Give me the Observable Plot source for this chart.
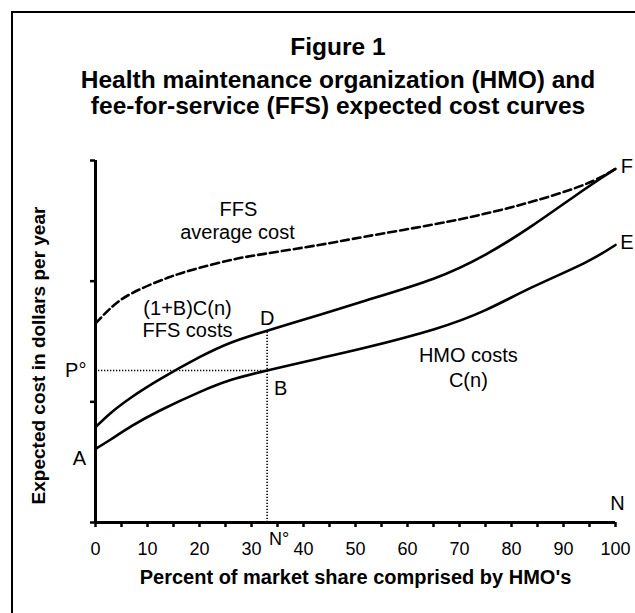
<!DOCTYPE html>
<html>
<head>
<meta charset="utf-8">
<script src="https://cdn.jsdelivr.net/npm/d3@7"></script>
<script src="https://cdn.jsdelivr.net/npm/@observablehq/plot@0.6"></script>
<style>
  html, body { margin: 0; padding: 0; background: #fff; }
  #wrap { position: relative; width: 635px; height: 613px; overflow: hidden; font-family: "Liberation Sans", Arial, Helvetica, sans-serif; color: #000; }
  #border { position: absolute; left: 11px; top: 11px; width: 700px; height: 700px; border-top: 2px solid #000; border-left: 2px solid #000; }
  .t { position: absolute; left: 0; width: 676px; text-align: center; font-weight: bold; white-space: nowrap; font-size: 24.5px; line-height: 25px; }
  #t1 { top: 34px; }
  #t2 { top: 67px; }
  #t3 { top: 93px; }
  #chart { position: absolute; left: 0; top: 130px; }
  #chart svg { overflow: visible; }
</style>
</head>
<body>
<div id="wrap">
  <div id="border"></div>
  <div class="t" id="t1">Figure 1</div>
  <div class="t" id="t2">Health maintenance organization (HMO) and</div>
  <div class="t" id="t3">fee-for-service (FFS) expected cost curves</div>
  <div id="chart"></div>
</div>
<script>
// ---- data (y in arbitrary cost units, axis spans 0..3) ----
const ffsAvgX  = [0, 3, 7, 14, 20, 26.5, 33, 43, 52, 65, 75, 84, 94, 100];
const ffsAvgY  = [1.65, 1.78, 1.90, 2.03, 2.11, 2.18, 2.23, 2.30, 2.37, 2.47, 2.56, 2.66, 2.80, 2.93];

const ffsCostX = [0, 3, 7, 12.5, 20, 26, 33, 43, 52, 65, 75, 84, 94, 100];
const ffsCostY = [0.79, 0.91, 1.04, 1.19, 1.37, 1.49, 1.59, 1.72, 1.84, 2.02, 2.22, 2.46, 2.76, 2.93];

const hmoX     = [0, 3, 7, 12.5, 20, 26, 33, 43, 52, 65, 75, 84, 94, 100];
const hmoY     = [0.61, 0.69, 0.80, 0.93, 1.08, 1.18, 1.26, 1.36, 1.45, 1.60, 1.76, 1.95, 2.15, 2.30];

const nStar = 33;      // N°
const pStar = 1.26;    // P° = C(N°)
const dVal  = 1.59;    // (1+B)C(N°)

const xTicks = [0,5,10,15,20,25,30,35,40,45,50,55,60,65,70,75,80,85,90,95,100];
const xTickLabels = ["0","","10","","20","","30","","40","","50","","60","","70","","80","","90","","100"];
const yTicks = [0, 1, 2, 3];

const labelText = ["FFS", "average cost", "(1+B)C(n)", "FFS costs", "D", "P°", "B", "HMO costs", "C(n)", "F", "E", "A", "N"];
const labelX    = [27.5, 27.3, 17.7, 17.7, 33, -3.8, 35.6, 71.7, 71.7, 102.2, 102.2, -3.1, 100.4];
const labelY    = [2.59, 2.40, 1.77, 1.59, 1.69, 1.26, 1.11, 1.38, 1.18, 2.95, 2.32, 0.53, 0.16];

const xTitle = "Percent of market share comprised by HMO's";
const yTitle = "Expected cost in dollars per year";

// ---- build tables ----
const ffsAvg  = ffsAvgX.map((x, i) => ({x, y: ffsAvgY[i]}));
const ffsCost = ffsCostX.map((x, i) => ({x, y: ffsCostY[i]}));
const hmo     = hmoX.map((x, i) => ({x, y: hmoY[i]}));
const labels  = labelText.map((t, i) => ({t, x: labelX[i], y: labelY[i]}));

const font = '"Liberation Sans", Arial, Helvetica, sans-serif';

const chart = Plot.plot({
  width: 635,
  height: 483,
  marginLeft: 95,
  marginRight: 20,
  marginTop: 30,
  marginBottom: 91,
  style: {fontFamily: font, background: "transparent", color: "#000", overflow: "visible"},
  x: {domain: [0, 100]},
  y: {domain: [0, 3]},
  marks: [
    Plot.axisX({ticks: xTicks, tickSize: 5, tickPadding: 15, strokeWidth: 2.5,
      tickFormat: d => xTickLabels[xTicks.indexOf(d)], fontSize: 18, label: null}),
    Plot.axisY({ticks: yTicks, tickSize: 5, strokeWidth: 2.5, tickFormat: () => "", label: null}),
    Plot.ruleY([0], {x1: 0, x2: 100, strokeWidth: 3}),
    Plot.ruleX([0], {y1: 0, y2: 3, strokeWidth: 3}),
    // dotted guide lines
    Plot.ruleY([pStar], {x1: 0, x2: nStar, strokeWidth: 1.6, strokeDasharray: "1.3,1.7"}),
    Plot.ruleX([nStar], {y1: 0, y2: dVal, strokeWidth: 1.6, strokeDasharray: "1.3,1.7"}),
    // curves
    Plot.line(ffsAvg, {x: "x", y: "y", curve: "natural", strokeWidth: 2.6, strokeDasharray: "8,4"}),
    Plot.line(ffsCost, {x: "x", y: "y", curve: "natural", strokeWidth: 2.6}),
    Plot.line(hmo, {x: "x", y: "y", curve: "natural", strokeWidth: 2.6}),
    // annotations
    Plot.text(labels, {x: "x", y: "y", text: "t", fontSize: 20, fill: "#000"}),
    Plot.text(["N°"], {x: nStar, y: 0, text: d => d, textAnchor: "start", dx: 2, dy: 17, fontSize: 18}),
    // axis titles
    Plot.text([xTitle], {frameAnchor: "bottom", text: d => d, dy: 61, fontSize: 20, fontWeight: "bold"}),
    Plot.text([yTitle], {frameAnchor: "left", textAnchor: "middle", text: d => d, dx: -57, dy: 14, rotate: -90, fontSize: 19, fontWeight: "bold"})
  ]
});
document.getElementById("chart").appendChild(chart);
</script>
</body>
</html>
